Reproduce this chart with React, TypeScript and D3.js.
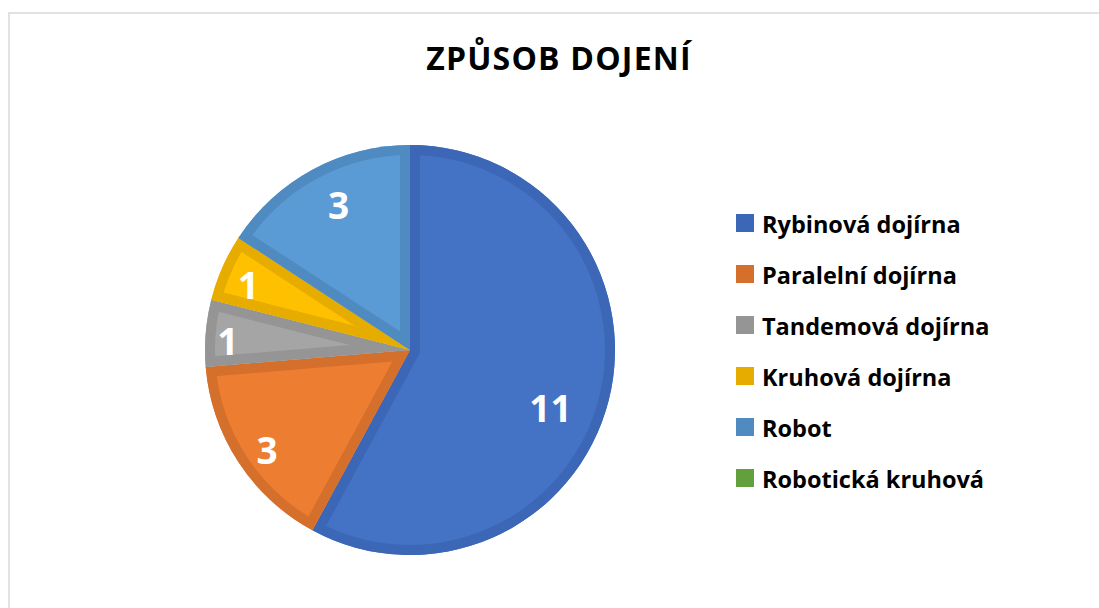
import React from "react";
import * as d3 from "d3";

const categories = [
  "Rybinová dojírna",
  "Paralelní dojírna",
  "Tandemová dojírna",
  "Kruhová dojírna",
  "Robot",
  "Robotická kruhová",
];
const values = [11, 3, 1, 1, 3, 0];
const fillColors = ["#4472C4", "#ED7D31", "#A5A5A5", "#FFC000", "#5B9BD5", "#70AD47"];
const strokeColors = ["#3B67B6", "#D46F2C", "#959595", "#E6AD00", "#4F8AC1", "#62A03E"];
const title = "ZPŮSOB DOJENÍ";

const W = 1099;
const H = 608;
const cx = 410;
const cy = 350;
const R = 205;
// label placement tweaks (radius fraction, angle offset in radians)
const labelTweak = [
  { r: 0.74, da: 0.14 },
  { r: 0.85, da: -0.03 },
  { r: 0.89, da: -0.03 },
  { r: 0.85, da: -0.03 },
  { r: 0.79, da: 0.04 },
  { r: 0.8, da: 0 },
];

export default function App() {
  const pie = d3.pie<number>().sort(null).value((d) => d)(values);
  const arc = d3.arc<d3.PieArcDatum<number>>().innerRadius(0).outerRadius(R);
  const font = "'Open Sans', Lato, sans-serif";

  return (
    <svg
      width={W}
      height={H}
      style={{ position: "absolute", left: 0, top: 0, background: "#fff" }}
      fontFamily={font}
    >
      <rect x={9} y={13} width={W + 10} height={H + 10} fill="#fff" stroke="#D9D9D9" strokeWidth={1.5} />
      <text x={559} y={70} textAnchor="middle" fontSize={32} fontWeight={700} fill="#000" letterSpacing={1.2}>
        {title}
      </text>
      <defs>
        {pie.map((p, i) => (
          <clipPath id={`clip${i}`} key={i}>
            <path d={arc(p) || ""} />
          </clipPath>
        ))}
      </defs>
      <g transform={`translate(${cx},${cy})`}>
        {pie.map((p, i) =>
          p.value > 0 ? (
            <g key={i}>
              <path d={arc(p) || ""} fill={fillColors[i]} />
              <path
                d={arc(p) || ""}
                fill="none"
                stroke={strokeColors[i]}
                strokeWidth={20}
                strokeLinejoin="miter"
                clipPath={`url(#clip${i})`}
              />
            </g>
          ) : null
        )}
        {pie.map((p, i) => {
          if (p.value <= 0) return null;
          const a = (p.startAngle + p.endAngle) / 2 + labelTweak[i].da;
          const rr = R * labelTweak[i].r;
          const x = rr * Math.sin(a);
          const y = -rr * Math.cos(a);
          return (
            <text
              key={`l${i}`}
              x={x}
              y={y}
              textAnchor="middle"
              dominantBaseline="central"
              fontSize={37}
              fontWeight={700}
              fill="#fff"
            >
              {p.value}
            </text>
          );
        })}
      </g>
      <g>
        {categories.map((c, i) => (
          <g key={c} transform={`translate(736,${223 + i * 51})`}>
            <rect x={0} y={-9} width={18} height={18} fill={strokeColors[i]} />
            <text x={26} y={1} dominantBaseline="central" fontSize={23.5} fontWeight={700} fill="#000">
              {c}
            </text>
          </g>
        ))}
      </g>
    </svg>
  );
}
